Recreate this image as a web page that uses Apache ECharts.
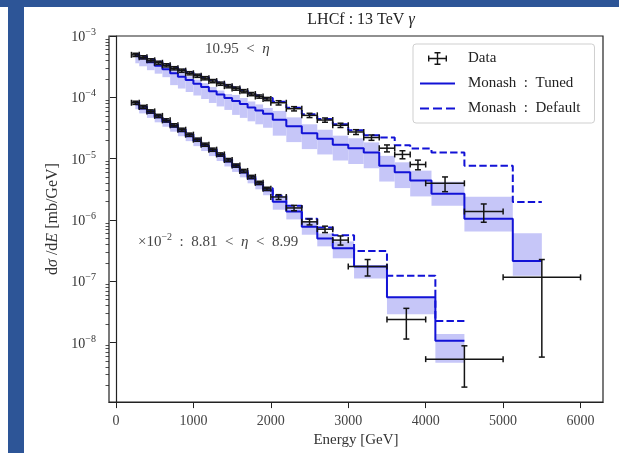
<!DOCTYPE html>
<html>
<head>
<meta charset="utf-8">
<script src="https://cdn.jsdelivr.net/npm/echarts@6/dist/echarts.min.js"></script>
<style>html,body{margin:0;padding:0;background:#fff}#c{width:619px;height:453px}</style>
</head>
<body>
<div id="c"></div>
<script>
// ---------- data ----------
const upperEdges = [200,300,400,500,600,700,800,900,1000,1100,1200,1300,1400,1500,1600,1700,1800,1900,2000,2200,2400,2600,2800,3000,3200,3400,3600,3800,4000,4500,5000,6000];
const upperData = [4.93e-4,4.49e-4,4.01e-4,3.66e-4,3.33e-4,2.98e-4,2.72e-4,2.47e-4,2.25e-4,2.05e-4,1.84e-4,1.67e-4,1.52e-4,1.39e-4,1.26e-4,1.13e-4,1.03e-4,9.39e-5,8.15e-5,6.52e-5,5.08e-5,4.26e-5,3.50e-5,2.72e-5,2.21e-5,1.48e-5,1.17e-5,8.02e-6,3.96e-6,1.37e-6,1.16e-7];
const upperErrPct = [6,6,6,6,6,6,6,6,6,6,6,6,6,6,6,6,6,6,8,8,8,8,8,9,10,13,15,18,27,33,95];
const upperTuned = [4.84e-4,4.32e-4,3.73e-4,3.27e-4,2.87e-4,2.47e-4,2.17e-4,1.91e-4,1.67e-4,1.47e-4,1.26e-4,1.11e-4,9.74e-5,8.71e-5,7.79e-5,6.84e-5,6.11e-5,5.37e-5,4.29e-5,3.37e-5,2.60e-5,2.11e-5,1.69e-5,1.48e-5,1.26e-5,7.67e-6,6.00e-6,4.39e-6,2.67e-6,1.05e-6,2.15e-7];
const upperBandHi = [5.21e-4,4.66e-4,4.01e-4,3.52e-4,3.09e-4,2.87e-4,2.52e-4,2.21e-4,1.94e-4,1.70e-4,1.47e-4,1.29e-4,1.13e-4,1.09e-4,9.74e-5,8.55e-5,7.65e-5,6.71e-5,6.00e-5,4.71e-5,3.63e-5,2.96e-5,2.37e-5,2.15e-5,1.84e-5,1.11e-5,8.71e-6,6.37e-6,4.18e-6,2.39e-6,6.09e-7];
const upperBandLo = [3.59e-4,3.21e-4,2.77e-4,2.43e-4,2.13e-4,1.58e-4,1.39e-4,1.22e-4,1.07e-4,9.39e-5,8.09e-5,7.10e-5,6.23e-5,5.17e-5,4.62e-5,4.06e-5,3.63e-5,3.19e-5,2.37e-5,1.86e-5,1.43e-5,1.17e-5,9.32e-6,8.18e-6,6.97e-6,4.23e-6,3.31e-6,2.42e-6,1.71e-6,6.49e-7,1.23e-7];
const upperDefault = [5.11e-4,4.66e-4,4.17e-4,3.80e-4,3.46e-4,3.09e-4,2.82e-4,2.57e-4,2.34e-4,2.13e-4,1.91e-4,1.74e-4,1.58e-4,1.44e-4,1.31e-4,1.17e-4,1.07e-4,9.74e-5,8.46e-5,6.76e-5,5.27e-5,4.42e-5,3.63e-5,2.90e-5,2.41e-5,2.21e-5,1.66e-5,1.46e-5,1.26e-5,7.67e-6,1.96e-6];

// lower group, already multiplied by 1e-2 as plotted
const lowerEdges = [200,300,400,500,600,700,800,900,1000,1100,1200,1300,1400,1500,1600,1700,1800,1900,2000,2200,2400,2600,2800,3000,3500,4000,5000];
const lowerData = [8.15e-5,6.97e-5,5.89e-5,4.98e-5,4.21e-5,3.50e-5,2.96e-5,2.46e-5,2.04e-5,1.69e-5,1.40e-5,1.17e-5,9.49e-6,7.73e-6,6.30e-6,5.04e-6,4.03e-6,3.22e-6,2.37e-6,1.57e-6,9.32e-7,7.07e-7,4.69e-7,1.74e-7,2.38e-8,5.37e-9];
const lowerErrPct = [6,6,6,6,6,6,6,6,6,6,6,6,6,6,6,6,6,6,9,10,11,12,17,30,52,65];
const lowerTuned = [7.70e-5,6.59e-5,5.57e-5,4.71e-5,3.98e-5,3.31e-5,2.80e-5,2.32e-5,1.93e-5,1.60e-5,1.33e-5,1.10e-5,8.98e-6,7.31e-6,5.96e-6,4.76e-6,3.81e-6,3.05e-6,1.98e-6,1.37e-6,7.73e-7,5.00e-7,3.45e-7,1.74e-7,5.49e-8,1.07e-8];
const lowerBandHi = [8.62e-5,7.37e-5,6.23e-5,5.27e-5,4.46e-5,3.70e-5,3.13e-5,2.60e-5,2.15e-5,1.79e-5,1.48e-5,1.23e-5,1.00e-5,8.18e-6,6.66e-6,5.33e-6,4.26e-6,3.41e-6,2.39e-6,1.65e-6,9.32e-7,6.02e-7,4.47e-7,1.74e-7,5.49e-8,1.38e-8];
const lowerBandLo = [6.39e-5,5.47e-5,4.62e-5,3.91e-5,3.31e-5,2.75e-5,2.32e-5,1.93e-5,1.60e-5,1.33e-5,1.10e-5,9.15e-6,7.45e-6,6.07e-6,4.95e-6,3.96e-6,3.16e-6,2.53e-6,1.47e-6,1.02e-6,5.74e-7,3.71e-7,2.37e-7,1.11e-7,2.91e-8,4.69e-9];
const lowerDefault = [8.30e-5,7.10e-5,6.00e-5,5.08e-5,4.29e-5,3.56e-5,3.01e-5,2.50e-5,2.08e-5,1.72e-5,1.43e-5,1.19e-5,9.67e-6,7.88e-6,6.42e-6,5.13e-6,4.11e-6,3.28e-6,2.48e-6,1.71e-6,1.05e-6,7.53e-7,5.65e-7,3.11e-7,1.23e-7,2.24e-8];

const xTicks = [0,1000,2000,3000,4000,5000,6000];
const yMajor = [1e-8,1e-7,1e-6,1e-5,1e-4,1e-3];
const yMinorMult = [2,3,4,5,6,7,8,9];

// ---------- helpers ----------
const F = "'Liberation Serif','DejaVu Serif',serif";
const BLUE = '#1212d6';
const BAND = '#c6c6f8';
function centers(e){ const c=[]; for(let i=0;i<e.length-1;i++) c.push((e[i]+e[i+1])/2); return c; }
function stepLine(e, v){ const c=centers(e); return c.map((x,i)=>[x, v[i]]); }
function errData(e, v, pct){ const c=centers(e); return c.map((x,i)=>[x, v[i], e[i], e[i+1], v[i]*(1-pct[i]/100), v[i]*(1+pct[i]/100)]); }
function bandData(e, lo, hi){
  const c=centers(e); const n=c.length;
  return c.map((x,i)=>[i===0?c[0]:(c[i-1]+c[i])/2, i===n-1?c[n-1]:(c[i]+c[i+1])/2, lo[i], hi[i]]);
}
const yMinor = [];
for (let p=-9; p<=-4; p++) for (const m of yMinorMult) { const v = m*Math.pow(10,p); if (v>1.07e-9 && v<1e-3) yMinor.push(v); }

function errRender(params, api){
  const x=api.value(0), y=api.value(1), x0=api.value(2), x1=api.value(3), y0=api.value(4), y1=api.value(5);
  const c=api.coord([x,y]), l=api.coord([x0,y]), r=api.coord([x1,y]), b=api.coord([x,y0]), t=api.coord([x,y1]);
  const cap=3, st={stroke:'#141414', lineWidth:1.5};
  const ln=(a,b2,c2,d)=>({type:'line', shape:{x1:a,y1:b2,x2:c2,y2:d}, style:st});
  return {type:'group', children:[
    ln(l[0],c[1],r[0],c[1]), ln(c[0],t[1],c[0],b[1]),
    ln(l[0],c[1]-cap,l[0],c[1]+cap), ln(r[0],c[1]-cap,r[0],c[1]+cap),
    ln(c[0]-cap,t[1],c[0]+cap,t[1]), ln(c[0]-cap,b[1],c[0]+cap,b[1])
  ]};
}
function bandRender(params, api){
  const p0=api.coord([api.value(0), api.value(3)]), p1=api.coord([api.value(1), api.value(2)]);
  return {type:'rect', shape:{x:p0[0], y:p0[1], width:p1[0]-p0[0], height:p1[1]-p0[1]}, style:{fill:BAND}};
}

const dataIcon = 'path://M0,0M35,14M8,6.3h19v1.4h-19zM16.8,0.5h1.4v13h-1.4zM14.5,0.5h6v1.4h-6zM14.5,12.1h6v1.4h-6zM8,4h1.4v6h-1.4zM25.6,4h1.4v6h-1.4z';
const solidIcon = 'path://M0,0M35,14M0,6h35v2h-35z';
const dashIcon = 'path://M0,0M35,14M0,6h9v2h-9zM13,6h9v2h-9zM26,6h9v2h-9z';

const supRich = {
  b:{fontSize:14, fontFamily:F, color:'#333', lineHeight:17, verticalAlign:'bottom'},
  s:{fontSize:10, fontFamily:F, color:'#333', lineHeight:9, verticalAlign:'top'}
};
const spaced = (s) => s.replace(/ : /g, '  :  ').replace(/ < /g, '  <  ');

const chart = echarts.init(document.getElementById('c'), null, {renderer:'canvas'});
chart.setOption({
  animation:false,
  backgroundColor:'#ffffff',
  title:{
    text:'{n|LHCf : 13 TeV }{i|γ}', left:356, top:7, textAlign:'center',
    textStyle:{fontWeight:'normal', rich:{n:{fontSize:16, fontFamily:F, fontWeight:'normal', color:'#222'}, i:{fontSize:16, fontFamily:F, fontWeight:'normal', fontStyle:'italic', color:'#222'}}}
  },
  grid:{left:109, right:16, top:36, bottom:48, show:true, borderColor:'#222', borderWidth:1.2, backgroundColor:'transparent', containLabel:false},
  legend:{
    orient:'vertical', left:413, top:44, itemWidth:35, itemHeight:14, itemGap:10,
    padding:[7,14,7,7], borderColor:'#cfcfcf', borderWidth:1, borderRadius:3, backgroundColor:'rgba(255,255,255,0.85)',
    textStyle:{fontFamily:F, fontSize:15, color:'#222', padding:[0,0,0,8]},
    formatter:(name)=>spaced(name),
    selectedMode:false,
    data:[
      {name:'Data', icon:dataIcon, itemStyle:{color:'#141414', borderWidth:0}},
      {name:'Monash : Tuned', icon:solidIcon, itemStyle:{color:BLUE, borderWidth:0}},
      {name:'Monash : Default', icon:dashIcon, itemStyle:{color:BLUE, borderWidth:0}}
    ]
  },
  xAxis:{
    type:'value', min:-90, max:6290,
    name:'Energy [GeV]', nameLocation:'middle', nameGap:24,
    nameTextStyle:{fontFamily:F, fontSize:15, color:'#333'},
    axisLine:{show:true, onZero:false, lineStyle:{color:'#222', width:1.2}},
    axisTick:{show:true, customValues:xTicks, length:6, lineStyle:{color:'#222', width:1}},
    axisLabel:{customValues:xTicks, formatter:(v)=>String(Math.round(v)), fontFamily:F, fontSize:14, color:'#444', margin:12},
    splitLine:{show:false}
  },
  yAxis:[{
    type:'log', logBase:10, min:1.07e-9, max:1e-3, position:'left',
    name:'{n|d}{i|σ}{n| /d}{i|E}{n| [mb/GeV]}', nameLocation:'middle', nameGap:38,
    nameTextStyle:{rich:{n:{fontFamily:F, fontSize:16, color:'#333'}, i:{fontFamily:F, fontSize:16, fontStyle:'italic', color:'#333'}}},
    axisLine:{show:true, lineStyle:{color:'#222', width:1.2}},
    axisTick:{show:true, customValues:yMajor, length:6, lineStyle:{color:'#222', width:1}},
    axisLabel:{customValues:yMajor, margin:13, formatter:(v)=>'{b|10}{s|−'+(-Math.round(Math.log10(v)))+'}', rich:supRich},
    splitLine:{show:false}
  },{
    type:'log', logBase:10, min:1.07e-9, max:1e-3, position:'left', offset:0,
    axisLine:{show:false},
    axisTick:{show:true, customValues:yMinor, length:3.5, lineStyle:{color:'#222', width:0.8}},
    axisLabel:{show:false}, splitLine:{show:false}
  }],
  graphic:[
    {type:'rect', shape:{x:0,y:0,width:619,height:7}, style:{fill:'#2d5597'}, z:100},
    {type:'rect', shape:{x:8,y:0,width:16,height:453}, style:{fill:'#2d5597'}, z:100},
    {type:'text', x:205, y:49, style:{text:'10.95  <  {i|η}', fontFamily:F, fontSize:15, fill:'#444', verticalAlign:'middle',
      rich:{i:{fontFamily:F, fontSize:15, fontStyle:'italic', fill:'#444'}}}},
    {type:'text', x:138, y:241, style:{text:'{b|×10}{s|−2}{b|  :  8.81  <  }{i|η}{b|  <  8.99}', verticalAlign:'middle',
      rich:{b:{fontFamily:F, fontSize:15, fill:'#444', lineHeight:18, verticalAlign:'bottom'}, s:{fontFamily:F, fontSize:10, fill:'#444', lineHeight:9, verticalAlign:'top'}, i:{fontFamily:F, fontSize:15, fontStyle:'italic', fill:'#444', lineHeight:18, verticalAlign:'bottom'}}}}
  ],
  series:[
    {type:'custom', name:'bandU', silent:true, renderItem:bandRender, data:bandData(upperEdges, upperBandLo, upperBandHi), encode:{x:[0,1], y:[2,3]}, z:1},
    {type:'custom', name:'bandL', silent:true, renderItem:bandRender, data:bandData(lowerEdges, lowerBandLo, lowerBandHi), encode:{x:[0,1], y:[2,3]}, z:1},
    {type:'line', name:'Monash : Tuned', step:'middle', symbol:'none', data:stepLine(upperEdges, upperTuned), lineStyle:{color:BLUE, width:2}, itemStyle:{color:BLUE}, z:3},
    {type:'line', name:'Monash : Tuned', step:'middle', symbol:'none', data:stepLine(lowerEdges, lowerTuned), lineStyle:{color:BLUE, width:2}, itemStyle:{color:BLUE}, z:3},
    {type:'line', name:'Monash : Default', step:'middle', symbol:'none', data:stepLine(upperEdges, upperDefault), lineStyle:{color:BLUE, width:2, type:[7.4,3.2]}, itemStyle:{color:BLUE}, z:3},
    {type:'line', name:'Monash : Default', step:'middle', symbol:'none', data:stepLine(lowerEdges, lowerDefault), lineStyle:{color:BLUE, width:2, type:[7.4,3.2]}, itemStyle:{color:BLUE}, z:3},
    {type:'custom', name:'Data', renderItem:errRender, data:errData(upperEdges, upperData, upperErrPct), encode:{x:0, y:1}, itemStyle:{color:'#141414'}, z:5},
    {type:'custom', name:'Data', renderItem:errRender, data:errData(lowerEdges, lowerData, lowerErrPct), encode:{x:0, y:1}, itemStyle:{color:'#141414'}, z:5}
  ]
});
</script>
</body>
</html>
